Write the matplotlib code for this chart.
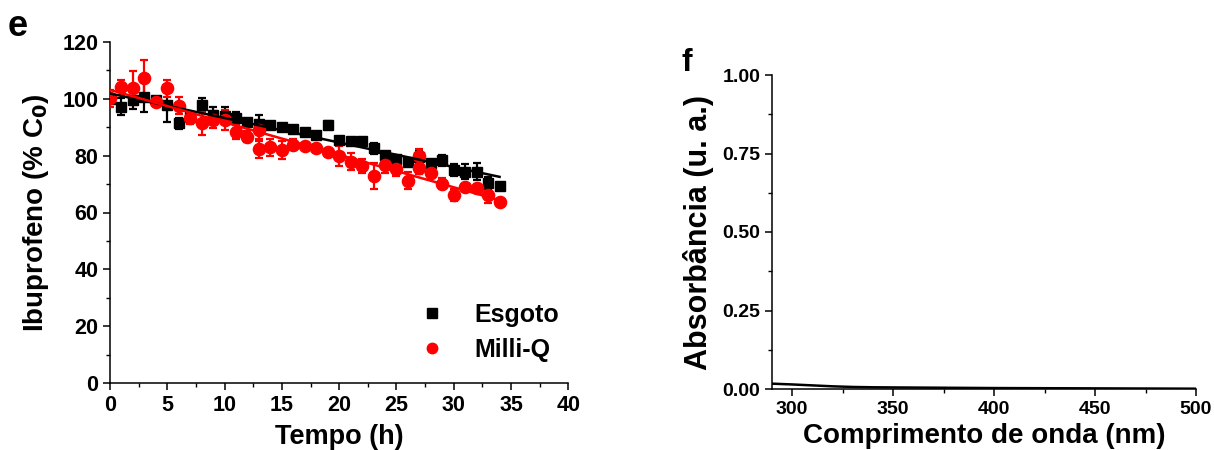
import numpy as np
import matplotlib
matplotlib.use("Agg")
import matplotlib.pyplot as plt
from matplotlib.ticker import MultipleLocator, FormatStrFormatter
from matplotlib.lines import Line2D

plt.rcParams['font.family'] = ['Liberation Sans', 'DejaVu Sans']
plt.rcParams['font.weight'] = 'bold'
plt.rcParams['mathtext.default'] = 'bf'

# ---- panel e data ----
esgoto_t = [0, 1, 2, 3, 4, 5, 6, 7, 8, 9, 10, 11, 12, 13, 14, 15, 16, 17, 18, 19,
            20, 21, 22, 23, 24, 25, 26, 27, 28, 29, 30, 31, 32, 33, 34]
esgoto_y = [100.0, 97.2, 99.5, 100.7, 99.6, 97.8, 91.4, 93.5, 97.8, 94.3, 94.0, 93.3,
            91.8, 91.2, 90.9, 90.0, 89.3, 88.3, 87.1, 90.8, 85.6, 85.2, 85.0, 82.6,
            80.2, 78.7, 77.9, 79.6, 77.5, 78.4, 75.0, 74.4, 74.3, 70.4, 69.3]
esgoto_err = [0, 3, 3, 5.5, 1, 6, 2, 1, 2.5, 3, 3, 2, 1, 3, 1, 1, 1, 1, 1, 1.5,
              1, 1, 1, 2, 1, 1, 1, 2, 1, 2, 2, 2.5, 3, 2, 1]

milliq_t = [0, 1, 2, 3, 4, 5, 6, 7, 8, 9, 10, 11, 12, 13, 13, 14, 15, 16, 17, 18, 19,
            20, 21, 22, 23, 24, 25, 26, 27, 27, 28, 29, 30, 31, 32, 33, 34]
milliq_y = [100.2, 104.0, 103.7, 107.2, 98.8, 103.7, 97.5, 93.1, 91.4, 92.6, 92.6,
            88.4, 86.7, 89.0, 82.3, 82.9, 82.0, 83.9, 83.5, 82.8, 81.2, 80.0, 77.9,
            76.5, 72.8, 76.8, 75.2, 71.2, 80.0, 75.5, 73.8, 70.2, 66.2, 69.1, 68.5,
            66.2, 63.8]
milliq_err = [3, 2.5, 6, 6.5, 1, 3, 3, 2, 4, 3, 3.5, 2.5, 2, 3, 3, 3, 3, 2, 1, 1, 1,
              3.5, 3, 2.5, 4.5, 3, 2.5, 3, 2.5, 2, 1, 2, 2, 1, 1.5, 3, 1]

# ---- panel f data ----
wavelength = [290, 300, 310, 320, 330, 340, 350, 375, 400, 450, 500]
absorbance = [0.017, 0.0145, 0.0115, 0.0085, 0.0065, 0.0055, 0.005, 0.004, 0.003, 0.002, 0.001]

fig = plt.figure(figsize=(12.14, 4.5), dpi=100)

# ---------------- panel e ----------------
ax1 = fig.add_axes([110/1214, 1-383/450, (568.3-110)/1214, (383-42)/450])
ax1.errorbar(esgoto_t, esgoto_y, yerr=esgoto_err, fmt='s', color='black', ms=7.8,
             elinewidth=1.6, capsize=3, capthick=1.6, zorder=3)
ax1.errorbar(milliq_t, milliq_y, yerr=milliq_err, fmt='o', color='red', ms=8.8,
             elinewidth=1.6, capsize=3, capthick=1.6, zorder=3)

for tt, yy, col in [(esgoto_t, esgoto_y, 'black'), (milliq_t, milliq_y, 'red')]:
    p = np.polyfit(tt, yy, 1)
    xf = np.array([min(tt), max(tt)])
    ax1.plot(xf, np.polyval(p, xf), color=col, lw=1.8, zorder=4)

ax1.set_xlim(0, 40)
ax1.set_ylim(0, 120)
ax1.xaxis.set_major_locator(MultipleLocator(5))
ax1.xaxis.set_minor_locator(MultipleLocator(2.5))
ax1.yaxis.set_major_locator(MultipleLocator(20))
ax1.yaxis.set_minor_locator(MultipleLocator(10))
ax1.set_xlabel('Tempo (h)', fontsize=19.5, fontweight='bold', labelpad=6)
ax1.set_ylabel('Ibuprofeno (% C$_{0}$)', fontsize=20, fontweight='bold', labelpad=8)

handles = [Line2D([], [], ls='none', marker='s', color='black', ms=7),
           Line2D([], [], ls='none', marker='o', color='red', ms=7.5)]
ax1.legend(handles, ['Esgoto', 'Milli-Q'], loc='lower right',
           bbox_to_anchor=(1.03, -0.005), frameon=False,
           handletextpad=1.0, handlelength=1.4, labelspacing=0.45,
           prop={'weight': 'bold', 'size': 18})

# ---------------- panel f ----------------
ax2 = fig.add_axes([772/1214, 1-389/450, (1196-772)/1214, (389-75)/450])
ax2.plot(wavelength, absorbance, color='black', lw=1.8)
ax2.set_xlim(290, 500)
ax2.set_ylim(0, 1.0)
ax2.xaxis.set_major_locator(MultipleLocator(50))
ax2.xaxis.set_minor_locator(MultipleLocator(25))
ax2.yaxis.set_major_locator(MultipleLocator(0.25))
ax2.yaxis.set_minor_locator(MultipleLocator(0.125))
ax2.yaxis.set_major_formatter(FormatStrFormatter('%.2f'))
ax2.set_xlabel('Comprimento de onda (nm)', fontsize=20, fontweight='bold', labelpad=4)
ax2.set_ylabel('Absorbância (u. a.)', fontsize=22, fontweight='bold', labelpad=6)

for ax, ls in ((ax1, 15.5), (ax2, 14)):
    for s in ('top', 'right'):
        ax.spines[s].set_visible(False)
    for s in ('left', 'bottom'):
        ax.spines[s].set_linewidth(1.1)
    ax.tick_params(which='major', direction='out', length=5, width=1.1, labelsize=ls)
    ax.tick_params(which='minor', direction='out', length=3, width=1.0)
    for lab in ax.get_xticklabels() + ax.get_yticklabels():
        lab.set_fontweight('bold')

fig.text(8/1214, 1-36/450, 'e', fontsize=26, fontweight='bold')
fig.text(681/1214, 1-71/450, 'f', fontsize=23, fontweight='bold')

fig.savefig('out.png', dpi=100)
